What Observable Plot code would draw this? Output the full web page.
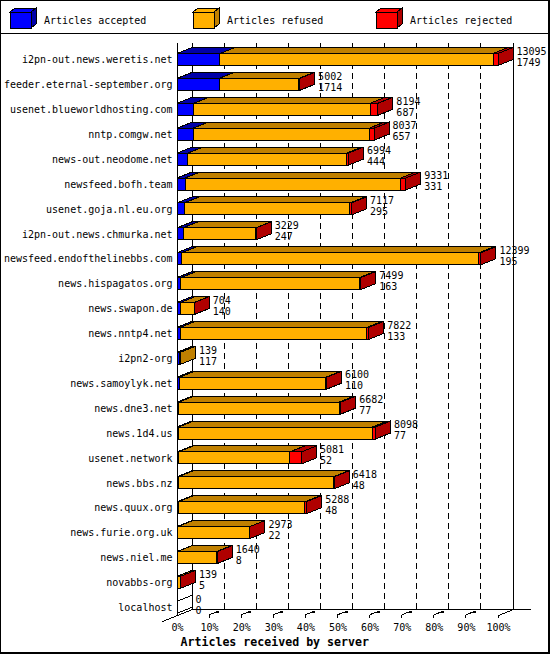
<!DOCTYPE html>
<html><head><meta charset="utf-8">
<script src="https://cdn.jsdelivr.net/npm/d3@7"></script>
<script src="https://cdn.jsdelivr.net/npm/@observablehq/plot@0.6"></script>
<style>
body{margin:0;background:#fff;}
#frame{position:absolute;left:0;top:0;width:550px;height:654px;box-sizing:border-box;border-style:solid;border-color:#000;border-width:1px 2px 2px 1px;pointer-events:none;}
#legend{position:absolute;left:0;top:0;width:550px;height:34px;box-sizing:border-box;border-bottom:1px solid #000;}
#chart{position:absolute;left:0;top:34px;}
svg{shape-rendering:crispEdges;}
svg text{font-family:"DejaVu Sans Mono",monospace;}
</style></head><body>
<div id="legend"></div><div id="chart"></div><div id="frame"></div>
<script>
const servers = ["i2pn-out.news.weretis.net","feeder.eternal-september.org","usenet.blueworldhosting.com","nntp.comgw.net","news-out.neodome.net","newsfeed.bofh.team","usenet.goja.nl.eu.org","i2pn-out.news.chmurka.net","newsfeed.endofthelinebbs.com","news.hispagatos.org","news.swapon.de","news.nntp4.net","i2pn2-org","news.samoylyk.net","news.dne3.net","news.1d4.us","usenet.network","news.bbs.nz","news.quux.org","news.furie.org.uk","news.niel.me","novabbs-org","localhost"];
const totals   = [13095,5002,8194,8037,6994,9331,7117,3229,12399,7499,704,7822,139,6100,6682,8098,5081,6418,5288,2973,1640,139,0];
const accepted = [1749,1714,687,657,444,331,295,247,195,163,140,133,117,110,77,77,52,48,48,22,8,5,0];
const rejected = [200,30,320,200,80,200,60,20,80,50,10,80,0,30,70,120,480,30,70,10,15,5,0];
const seriesNames = ["Articles accepted","Articles refused","Articles rejected"];
const frontColors = ["#0000ff","#ffb000","#ff0000"];
const darkColors  = ["#0000a8","#c08000","#b00000"];
const xTicks = [0,10,20,30,40,50,60,70,80,90,100];
const axisTitle = "Articles received by server";

const DX = 15, DY = 6, HALF = 6;
const maxTotal = d3.max(totals);
const pct = v => v / maxTotal * 100;

const rows = servers.map((s, i) => {
  const a = accepted[i], rj = rejected[i], rf = totals[i] - a - rj;
  const counts = [a, rf, rj];
  let cum = 0;
  const segs = counts.map((c, k) => {
    const x1 = pct(cum); cum += c; const x2 = pct(cum);
    return {server: s, series: seriesNames[k], k, x1, x2, count: c};
  });
  let last = -1; counts.forEach((c, k) => { if (c > 0) last = k; });
  return {server: s, total: totals[i], accepted: a, segs, end: pct(totals[i]), last};
});
const segments = rows.flatMap(r => r.segs).filter(d => d.x2 > d.x1);

// legend
{
  const L = d3.select("#legend").append("svg").attr("width", 550).attr("height", 33);
  const lx = [10, 193, 376];
  seriesNames.forEach((name, k) => {
    const x0 = lx[k], y0 = 12, w = 21, h = 16, dx = 5, dy = 4;
    L.append("path").attr("d", `M${x0},${y0}L${x0+w},${y0}L${x0+w+dx},${y0-dy}L${x0+dx},${y0-dy}Z`).attr("fill", frontColors[k]).attr("stroke", "#000");
    L.append("path").attr("d", `M${x0+w},${y0}L${x0+w+dx},${y0-dy}L${x0+w+dx},${y0+h-dy}L${x0+w},${y0+h}Z`).attr("fill", darkColors[k]).attr("stroke", "#000");
    L.append("rect").attr("x", x0).attr("y", y0).attr("width", w).attr("height", h).attr("fill", frontColors[k]).attr("stroke", "#000");
    L.append("text").attr("x", x0 + 34).attr("y", 20).attr("dy", "0.35em").attr("font-size", 10).text(name);
  });
}

function decor(index, scales, values, dim) {
  const x = scales.x;
  const g = d3.create("svg:g").attr("stroke", "#000").attr("fill", "none");
  const yTop = 9;
  const floorFront = dim.height - dim.marginBottom - 4;
  const floorBack = floorFront - DY;
  xTicks.forEach(t => {
    const xb = x(t) + DX;
    const ln = g.append("line").attr("x1", xb).attr("x2", xb).attr("y1", yTop).attr("y2", floorBack);
    if (t !== 0 && t !== 100) ln.attr("stroke-dasharray", "6,4");
  });
  g.append("line").attr("x1", x(0)).attr("x2", x(0)).attr("y1", yTop).attr("y2", floorFront);
  g.append("line").attr("x1", x(0) + DX).attr("x2", x(100) + DX + 18).attr("y1", floorBack).attr("y2", floorBack);
  g.append("line").attr("x1", x(0) - DX).attr("y1", floorFront + DY).attr("x2", x(0) + DX).attr("y2", floorBack);
  g.append("line").attr("x1", x(100)).attr("y1", floorFront).attr("x2", x(100) + DX).attr("y2", floorBack);
  xTicks.slice(1).forEach(t => {
    const xf = x(t);
    g.append("line").attr("x1", xf).attr("x2", xf).attr("y1", floorFront - 1).attr("y2", floorFront + 2);
    if (t !== 100) {
      g.append("line").attr("x1", xf).attr("y1", floorFront - 1).attr("x2", xf + 8).attr("y2", floorBack + 2);
      g.append("rect").attr("x", xf + 7).attr("y", floorBack + 1).attr("width", 3).attr("height", 2).attr("fill", "#000").attr("stroke", "none");
    }
  });
  return g.node();
}

function faces(index, scales) {
  const x = scales.x, y = scales.y;
  const step = y(servers[1]) - y(servers[0]);
  const g = d3.create("svg:g").attr("stroke", "#000");
  rows.forEach(r => {
    const cy = y(r.server) + step / 2;
    const top = cy - HALF, bot = cy + HALF;
    r.segs.forEach(s => {
      if (s.x2 <= s.x1) return;
      const a = x(s.x1), b = x(s.x2);
      g.append("path").attr("d", `M${a},${top}L${b},${top}L${b+DX},${top-DY}L${a+DX},${top-DY}Z`).attr("fill", darkColors[s.k]);
    });
    const e = x(r.end);
    g.append("path").attr("d", `M${e},${top}L${e+DX},${top-DY}L${e+DX},${bot-DY}L${e},${bot}Z`)
      .attr("fill", r.last >= 0 ? darkColors[r.last] : "#fff");
  });
  return g.node();
}

const chart = Plot.plot({
  width: 550, height: 616,
  marginLeft: 177, marginRight: 52, marginTop: 13.05, marginBottom: 30.25,
  style: {fontFamily: "DejaVu Sans Mono, monospace", fontSize: "10px", overflow: "visible", background: "transparent"},
  x: {domain: [0, 100], ticks: xTicks, tickFormat: d => d + "%", tickSize: 0, tickPadding: 4, label: null},
  y: {domain: servers, padding: 0, round: false, tickSize: 0, tickPadding: 5, label: null},
  color: {domain: seriesNames, range: frontColors},
  marks: [
    decor,
    faces,
    Plot.barX(segments, {y: "server", x1: "x1", x2: "x2", fill: "series", stroke: "#000", strokeWidth: 1, insetTop: 6.45, insetBottom: 6.45}),
    Plot.text(rows, {y: "server", x: "end", text: d => String(d.total), dx: DX + 3, dy: -8.5, textAnchor: "start", fill: "#000"}),
    Plot.text(rows, {y: "server", x: "end", text: d => String(d.accepted), dx: DX + 3, dy: 2.5, textAnchor: "start", fill: "#000"}),
    Plot.text([axisTitle], {frameAnchor: "bottom-left", text: d => d, dx: 3, dy: 26, textAnchor: "start", fontWeight: "bold", fontSize: 11.6, fill: "#000"})
  ]
});
document.getElementById("chart").appendChild(chart);
</script>
</body></html>
